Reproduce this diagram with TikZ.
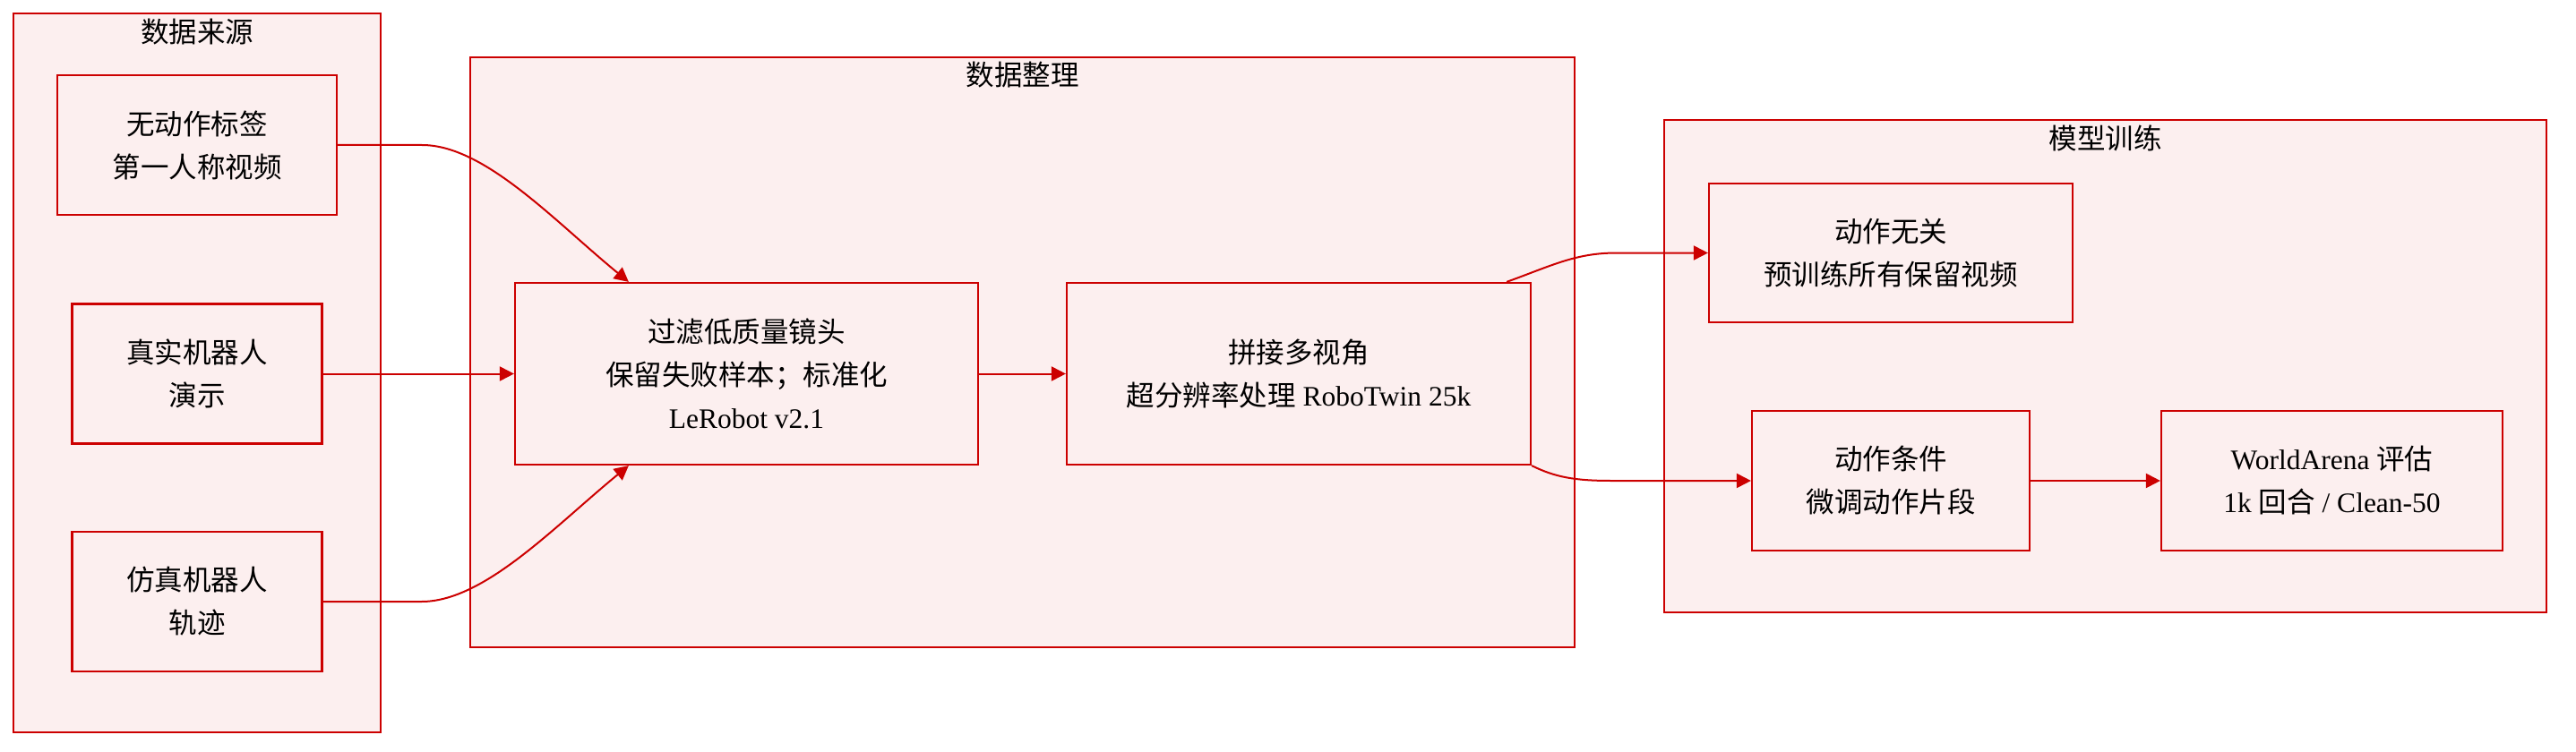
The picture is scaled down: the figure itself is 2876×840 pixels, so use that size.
\documentclass[tikz,border=0pt]{standalone}
\usepackage{fontspec}
\setmainfont{Liberation Serif}
\newfontfamily\cjk{Noto Sans CJK SC}
\usetikzlibrary{arrows.meta,calc}
\definecolor{edgered}{HTML}{CC0000}
\definecolor{boxfill}{HTML}{FCEFEF}
\tikzset{
  txt/.style={font=\fontsize{15.75pt}{24pt}\selectfont, align=center, text=black},
  cluster/.style={draw=edgered, fill=boxfill, line width=1.1pt, rectangle, inner sep=0pt},
  stepbox/.style={draw=edgered, fill=boxfill, line width=1.1pt, rectangle, inner sep=0pt, txt},
  ctitle/.style={txt, inner sep=0pt},
  edge/.style={draw=edgered, line width=1pt, -{Triangle[length=8pt,width=8pt]}}
}
\begin{document}
\begin{tikzpicture}[x=0.5pt,y=-0.5pt]
\useasboundingbox (0,0) rectangle (2876,840);
\fill[white] (0,0) rectangle (2876,840);

% clusters
\node[cluster, minimum width=205pt, minimum height=401.5pt] (c1) at (220,416.5) {};
\node[cluster, minimum width=616.5pt, minimum height=329.5pt] (c2) at (1141.5,393.5) {};
\node[cluster, minimum width=492.5pt, minimum height=275pt] (c3) at (2350.5,409) {};
\node[ctitle] (t1title) at ($(c1.north)+(0,22)$) {\cjk 数据来源};
\node[ctitle] (t2title) at ($(c2.north)+(0,21)$) {\cjk 数据整理};
\node[ctitle] (t3title) at ($(c3.north)+(0,22)$) {\cjk 模型训练};

% nodes
\node[stepbox, minimum width=156pt, minimum height=78pt] (src1) at (220,162) {{\cjk 无动作标签}\\{\cjk 第一人称视频}};
\node[stepbox, minimum width=139.5pt, minimum height=78pt] (src2) at (220,417.5) {{\cjk 真实机器人}\\{\cjk 演示}};
\node[stepbox, minimum width=139.5pt, minimum height=78pt] (src3) at (220,672) {{\cjk 仿真机器人}\\{\cjk 轨迹}};
\node[stepbox, minimum width=258.5pt, minimum height=101.5pt] (filt) at (833.5,417.5) {{\cjk 过滤低质量镜头}\\{\cjk 保留失败样本；标准化}\\LeRobot v2.1};
\node[stepbox, minimum width=259pt, minimum height=101.5pt] (stitch) at (1450,417.5) {{\cjk 拼接多视角}\\{\cjk 超分辨率处理} RoboTwin 25k};
\node[stepbox, minimum width=203pt, minimum height=77.5pt] (free) at (2111,282.5) {{\cjk 动作无关}\\{\cjk 预训练所有保留视频}};
\node[stepbox, minimum width=155pt, minimum height=78pt] (cond) at (2111,537) {{\cjk 动作条件}\\{\cjk 微调动作片段}};
\node[stepbox, minimum width=190.5pt, minimum height=78pt] (eval) at (2603.5,537) {WorldArena {\cjk 评估}\\1k {\cjk 回合} / Clean-50};

% helper coordinates
\coordinate (ta) at ($(filt.north west)+(128,0)$);
\coordinate (tb) at ($(filt.south west)+(128,0)$);
\coordinate (sa) at ($(stitch.north east)+(-28,0)$);
\coordinate (ma) at ($(free.west)+(-102,0)$);
\coordinate (mb) at ($(cond.west)+(-156,0)$);

% edges
\draw[edge] (src1.east) -- ($(src1.east)+(94,0)$) .. controls ($(src1.east)+(164,0)$) and ($(ta)+(-83,-68)$) .. (ta);
\draw[edge] (src2.east) -- (filt.west);
\draw[edge] (src3.east) -- ($(src3.east)+(110,0)$) .. controls ($(src3.east)+(180,0)$) and ($(tb)+(-83,68)$) .. (tb);
\draw[edge] (filt.east) -- (stitch.west);
\draw[edge] (sa) .. controls ($(sa)+(50,-18)$) and ($(ma)+(-46,0)$) .. (ma) -- (free.west);
\draw[edge] (stitch.south east) .. controls ($(stitch.south east)+(26,13)$) and ($(mb)+(-40,0)$) .. (mb) -- (cond.west);
\draw[edge] (cond.east) -- (eval.west);
\end{tikzpicture}
\end{document}
